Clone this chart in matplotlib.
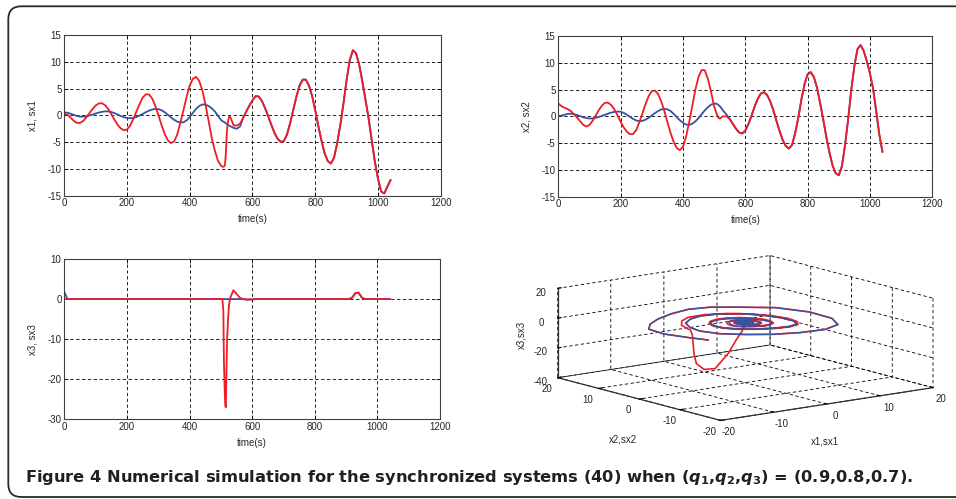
import numpy as np
import matplotlib
matplotlib.use("Agg")
import matplotlib.pyplot as plt
from matplotlib.patches import FancyBboxPatch
from mpl_toolkits.mplot3d import proj3d

plt.rcParams["font.family"] = ["Liberation Sans", "DejaVu Sans"]
plt.rcParams["axes.unicode_minus"] = False
plt.rcParams["mathtext.fontset"] = "custom"
plt.rcParams["mathtext.rm"] = "DejaVu Sans:bold"
plt.rcParams["mathtext.bf"] = "DejaVu Sans:bold"
plt.rcParams["mathtext.it"] = "DejaVu Sans:italic:bold"

# time samples (s), denser around the jump near 510 s
t_early = np.arange(0, 501, 10)
t_jump = [505, 508, 510, 512, 514, 516, 518, 520, 523, 526, 530]
t_late = np.arange(540, 1041, 10)
t = np.concatenate([t_early, t_jump, t_late]).astype(float)

# drive system (red)
x1 = [0.30, 0.10, -0.42, -1.01, -1.40, -1.41, -1.06, -0.40, 0.39, 1.18,
      1.85, 2.23, 2.26, 1.90, 1.18, 0.21, -0.81, -1.75, -2.44, -2.78,
      -2.64, -1.92, -0.69, 0.74, 2.10, 3.32, 3.93, 3.91, 3.17, 1.79,
      0.04, -1.80, -3.45, -4.65, -5.18, -4.87, -3.59, -1.36, 1.00, 3.48,
      5.59, 6.83, 7.18, 6.43, 4.68, 1.99, -1.00, -4.20, -6.60, -8.50,
      -9.43,
      -9.60, -9.60, -9.50, -9.30, -8.00, -6.00, -3.50, -2.00, -0.80, -0.20, -0.40,
      -1.90, -1.90, -1.60, -0.50, 0.70, 1.80, 2.80, 3.60, 3.50, 2.70,
      1.35, -0.13, -1.78, -3.26, -4.39, -4.95, -4.79, -3.58, -1.46, 1.02,
      3.49, 5.57, 6.67, 6.66, 5.58, 3.64, 0.95, -2.05, -4.73, -7.10,
      -8.53, -9.00, -7.90, -5.18, -1.80, 2.20, 6.60, 10.30, 12.15, 11.60,
      9.50, 6.40, 3.00, -0.50, -4.60, -8.60, -11.80, -14.20, -14.60, -13.30,
      -12.10]
x2 = [2.40, 1.90, 1.60, 1.35, 1.00, 0.40, -0.20, -0.90, -1.60, -1.90,
      -1.60, -0.84, 0.13, 1.16, 2.02, 2.54, 2.54, 2.10, 1.28, 0.20,
      -1.00, -2.08, -2.86, -3.34, -3.30, -2.57, -1.09, 0.56, 2.29, 3.78,
      4.69, 4.82, 4.19, 2.84, 1.06, -1.06, -3.06, -4.74, -5.91, -6.30,
      -5.65, -3.81, -1.09, 1.99, 5.03, 7.37, 8.65, 8.60, 7.00, 4.60,
      1.90,
      1.00, 0.50, 0.20, -0.10, -0.30, -0.40, -0.40, -0.35, -0.20, -0.05, 0.00,
      0.00, -0.50, -1.40, -2.30, -3.00, -3.20, -2.66, -1.43, 0.11, 1.84,
      3.27, 4.27, 4.50, 3.97, 2.82, 1.14, -0.86, -2.75, -4.43, -5.55,
      -6.00, -5.36, -3.14, -0.28, 3.15, 6.01, 7.87, 8.25, 7.34, 5.40,
      2.51, -0.58, -3.86, -6.75, -9.17, -10.61, -11.00, -9.30, -5.41, -0.55,
      4.92, 9.41, 12.57, 13.30, 12.20, 10.30, 8.00, 5.20, 1.00, -3.40,
      -6.60]
x3 = ([0.0] * 51
      + [0.0, -3.0, -16.0, -22.0, -26.5, -27.0, -18.0, -10.0, -5.0, -1.5, 0.3]
      + [2.2, 1.3, 0.4, 0.0, -0.1, -0.1, -0.1, 0.0]
      + [0.0] * 30
      + [0.4, 1.5, 1.6, 0.4]
      + [0.0] * 9)

# response system (blue) before it locks onto the drive (t <= 560 s)
sx1_pre = [0.55, 0.49, 0.31, 0.09, -0.11, -0.24, -0.24, -0.17, -0.03, 0.15,
           0.35, 0.53, 0.66, 0.74, 0.74, 0.62, 0.41, 0.15, -0.12, -0.34,
           -0.50, -0.55, -0.48, -0.30, -0.03, 0.27, 0.60, 0.87, 1.08, 1.19,
           1.16, 0.96, 0.59, 0.13, -0.38, -0.83, -1.17, -1.33, -1.29, -0.93,
           -0.30, 0.46, 1.20, 1.74, 2.03, 2.00, 1.75, 1.32, 0.73, -0.10,
           -0.90,
           -1.10, -1.20, -1.28, -1.36, -1.44, -1.52, -1.60, -1.68, -1.80, -1.92, -2.05,
           -2.35, -2.50, -2.10]
sx2_pre = [0.06, 0.13, 0.30, 0.45, 0.50, 0.41, 0.25, 0.04, -0.17, -0.32,
           -0.40, -0.38, -0.28, -0.11, 0.08, 0.30, 0.52, 0.70, 0.84, 0.90,
           0.86, 0.65, 0.30, -0.10, -0.48, -0.77, -0.90, -0.84, -0.62, -0.26,
           0.16, 0.61, 0.98, 1.28, 1.40, 1.32, 1.00, 0.47, -0.13, -0.73,
           -1.21, -1.54, -1.59, -1.38, -0.94, -0.32, 0.40, 1.12, 1.72, 2.18,
           2.39,
           2.38, 2.33, 2.28, 2.20, 2.10, 2.00, 1.88, 1.75, 1.55, 1.30, 1.00,
           0.30, -0.50, -1.40]
sx3_pre = [1.8] + [0.0] * 64

# after synchronisation the response follows the drive
n_pre = len(sx1_pre)
sx1 = np.concatenate([sx1_pre, x1[n_pre:]])
sx2 = np.concatenate([sx2_pre, x2[n_pre:]])
sx3 = np.concatenate([sx3_pre, x3[n_pre:]])

RED = "#ee1c25"
BLUE = "#3652a3"
TXT = "#262626"
W, H = 956, 499


def px_rect(left, top, right, bottom):
    return [left / W, 1 - bottom / H, (right - left) / W, (bottom - top) / H]


def time_panel(ax, drive, resp, ylim, yticks, ylabel):
    ax.plot(t, resp, color=BLUE, lw=1.3)
    ax.plot(t, drive, color=RED, lw=1.3)
    ax.set_xlim(0, 1200)
    ax.set_xticks(range(0, 1201, 200))
    ax.set_ylim(*ylim)
    ax.set_yticks(yticks)
    ax.grid(True, color="k", linestyle=(0, (4, 3)), linewidth=0.6)
    ax.tick_params(direction="in", length=3, width=0.6, labelsize=7,
                   labelcolor=TXT, top=True, right=True, pad=2)
    for sp in ax.spines.values():
        sp.set_color("#404040")
        sp.set_linewidth(0.8)
    ax.set_xlabel("time(s)", fontsize=7, color=TXT, labelpad=4)
    ax.set_ylabel(ylabel, fontsize=7, color=TXT, labelpad=7)


fig = plt.figure(figsize=(W / 100, H / 100), dpi=100)

ax1 = fig.add_axes(px_rect(64.3, 35, 440.7, 195.7))
time_panel(ax1, x1, sx1, (-15, 15), range(-15, 16, 5), "x1, sx1")

ax2 = fig.add_axes(px_rect(558.3, 36, 932.3, 196.7))
time_panel(ax2, x2, sx2, (-15, 15), range(-15, 16, 5), "x2, sx2")

ax4 = fig.add_axes(px_rect(64.3, 259, 440, 419.3))
time_panel(ax4, x3, sx3, (-30, 10), range(-30, 11, 10), "x3, sx3")

# 3-D phase portrait
ax3 = fig.add_axes(px_rect(525, 120, 965, 540), projection="3d")
ax3.set_facecolor("none")
ax3.computed_zorder = False
ax3.set_proj_type("ortho")
ax3.view_init(elev=11.6, azim=-127.5)
ax3.plot(x1, x2, x3, color=RED, lw=1.2)
ax3.plot(sx1, sx2, sx3, color=BLUE, lw=1.0)
ax3.set_xlim(-20, 20)
ax3.set_ylim(-20, 20)
ax3.set_zlim(-40, 20)
ax3.set_xticks([-20, -10, 0, 10, 20])
ax3.set_yticks([-20, -10, 0, 10, 20])
ax3.set_zticks([-40, -20, 0, 20])
for axis in (ax3.xaxis, ax3.yaxis, ax3.zaxis):
    axis.set_pane_color((1, 1, 1, 0))
    axis.pane.set_edgecolor("none")
    axis.line.set_color("#303030")
    axis.line.set_linewidth(0.9)
    axis._axinfo["grid"]["color"] = "k"
    axis._axinfo["grid"]["linewidth"] = 0.6
    axis._axinfo["grid"]["linestyle"] = (0, (4, 3))
    axis._axinfo["tick"]["inward_factor"] = 0.0
    axis._axinfo["tick"]["outward_factor"] = 0.2
ax3.tick_params(labelsize=7, labelcolor=TXT, pad=0)
ax3.tick_params(axis="z", pad=-1)

box = (1, 1, 0.341)
ax3.set_box_aspect(box)


def corner(x, y, z):
    xs, ys, _ = proj3d.proj_transform(x, y, z, ax3.get_proj())
    return ax3.transData.transform((xs, ys))


# fit the projected box onto the reference corners
fig.canvas.draw()
left_c = corner(-20, 20, -40)
right_c = corner(20, -20, -40)
ax3.set_box_aspect(box, zoom=(933 - 557.7) / (right_c[0] - left_c[0]))
fig.canvas.draw()
left_c = corner(-20, 20, -40)
pos = ax3.get_position(original=True)
ax3.set_position([pos.x0 + (557.7 - left_c[0]) / W,
                  pos.y0 + ((H - 377.7) - left_c[1]) / H,
                  pos.width, pos.height])

# axis titles of the 3-D panel
fig.text(623 / W, 1 - 440 / H, "x2,sx2", fontsize=7, color=TXT,
         ha="center", va="center")
fig.text(825 / W, 1 - 441 / H, "x1,sx1", fontsize=7, color=TXT,
         ha="center", va="center")
fig.text(521.7 / W, 1 - 335 / H, "x3,sx3", fontsize=7, color=TXT,
         ha="center", va="center", rotation=90)

fig.text(25 / W, 1 - 482.3 / H,
         "Figure 4 Numerical simulation for the synchronized systems (40) when "
         "($q_1$,$q_2$,$q_3$) = (0.9,0.8,0.7).",
         fontsize=11.7, fontweight="bold", family="DejaVu Sans",
         color="#231f20", va="baseline")

frame = FancyBboxPatch((0.083, 0.02), 9.7, 4.907,
                       boxstyle="round,pad=0,rounding_size=0.13",
                       transform=fig.dpi_scale_trans, fill=False,
                       edgecolor="#2a2a2a", linewidth=1.3)
fig.add_artist(frame)

fig.savefig("out.png", dpi=100, facecolor="white")
